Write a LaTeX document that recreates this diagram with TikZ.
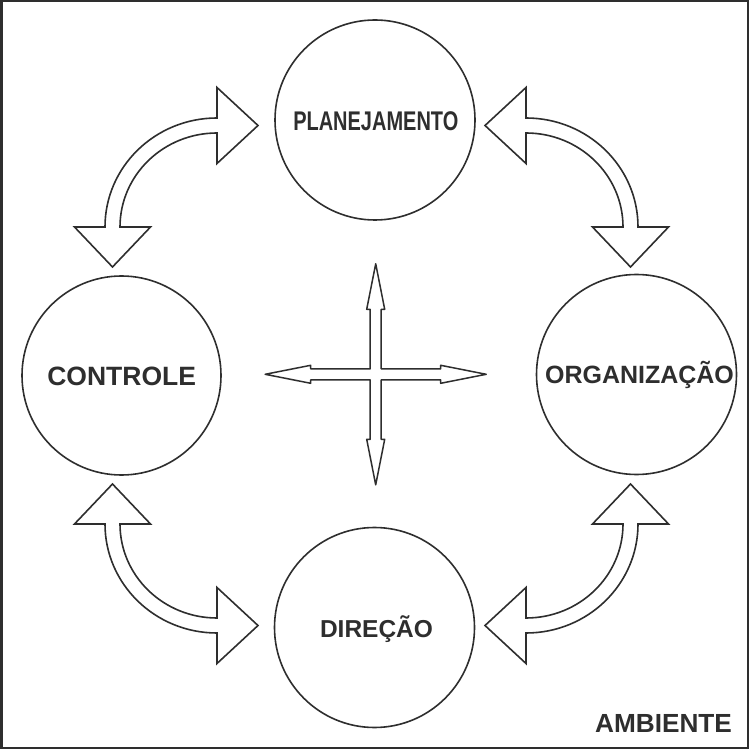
\documentclass[tikz,border=0pt]{standalone}
\usepackage{fontspec}
\setmainfont{Liberation Sans}
\definecolor{ink}{gray}{0.18}
\begin{document}
\begin{tikzpicture}[x=1pt,y=1pt,
  outline/.style={draw=ink, line width=1.6pt, line join=miter, fill=white},
  crossline/.style={draw=ink, line width=1.5pt, line join=round, fill=white},
  circ/.style={circle, draw=ink, line width=1.6pt, minimum size=200pt, inner sep=0pt},
  lbl/.style={anchor=base, text=ink, inner sep=0pt},
  frame/.style={draw=ink, line width=2.5pt},
  curvarrow/.pic={\path[outline] (0,109) -- (0,139.5) -- (41,101.5) -- (0,63.5) -- (0,94)
      arc[start angle=90,end angle=180,x radius=97,y radius=94]
      -- (-66.5,0) -- (-104.5,-40) -- (-142.5,0) -- (-112,0)
      arc[start angle=180,end angle=90,x radius=112,y radius=109] -- cycle;}
]
\useasboundingbox (0,0) rectangle (751,750);
\path[frame] (1.5,2) rectangle (748,749);

% circles
\node[circ] (plan) at (375,630) {};
\node[circ, minimum size=199pt] (ctrl) at (121.5,374.5) {};
\node[circ] (org) at (636.5,375.5) {};
\node[circ] (dir) at (374.5,122.5) {};

% labels
\node[lbl, font=\bfseries\fontsize{27}{30}\selectfont] (planT) at (375.8,619) {\scalebox{0.74}[1]{PLANEJAMENTO}};
\node[lbl, font=\bfseries\fontsize{26.5}{30}\selectfont] (ctrlT) at (121.7,364) {CONTROLE};
\node[lbl, font=\bfseries\fontsize{25}{30}\selectfont] (orgT) at (639.5,366.7) {ORGANIZAÇÃO};
\node[lbl, font=\bfseries\fontsize{24.5}{30}\selectfont] (dirT) at (376.5,112.7) {DIREÇÃO};
\node[lbl, font=\bfseries\fontsize{26.2}{30}\selectfont] (ambT) at (663.5,17.7) {AMBIENTE};

% curved double arrows
\pic at (217,523) {curvarrow};
\pic[xscale=-1] at (526,523) {curvarrow};
\pic[yscale=-1] at (217,226) {curvarrow};
\pic[xscale=-1,yscale=-1] at (526,226) {curvarrow};

% central cross
\begin{scope}[shift={(375.7,375.7)}]
\path[crossline] (5.5,5.5) -- (5.5,65) -- (9,65) -- (0,110.5) -- (-9,65) -- (-5.5,65) -- (-5.5,5.5)
  -- (-65,5.5) -- (-65,9) -- (-110.5,0) -- (-65,-9) -- (-65,-5.5) -- (-5.5,-5.5)
  -- (-5.5,-65) -- (-9,-65) -- (0,-110.5) -- (9,-65) -- (5.5,-65) -- (5.5,-5.5)
  -- (65,-5.5) -- (65,-9) -- (110.5,0) -- (65,9) -- (65,5.5) -- cycle;
\end{scope}
\end{tikzpicture}
\end{document}
